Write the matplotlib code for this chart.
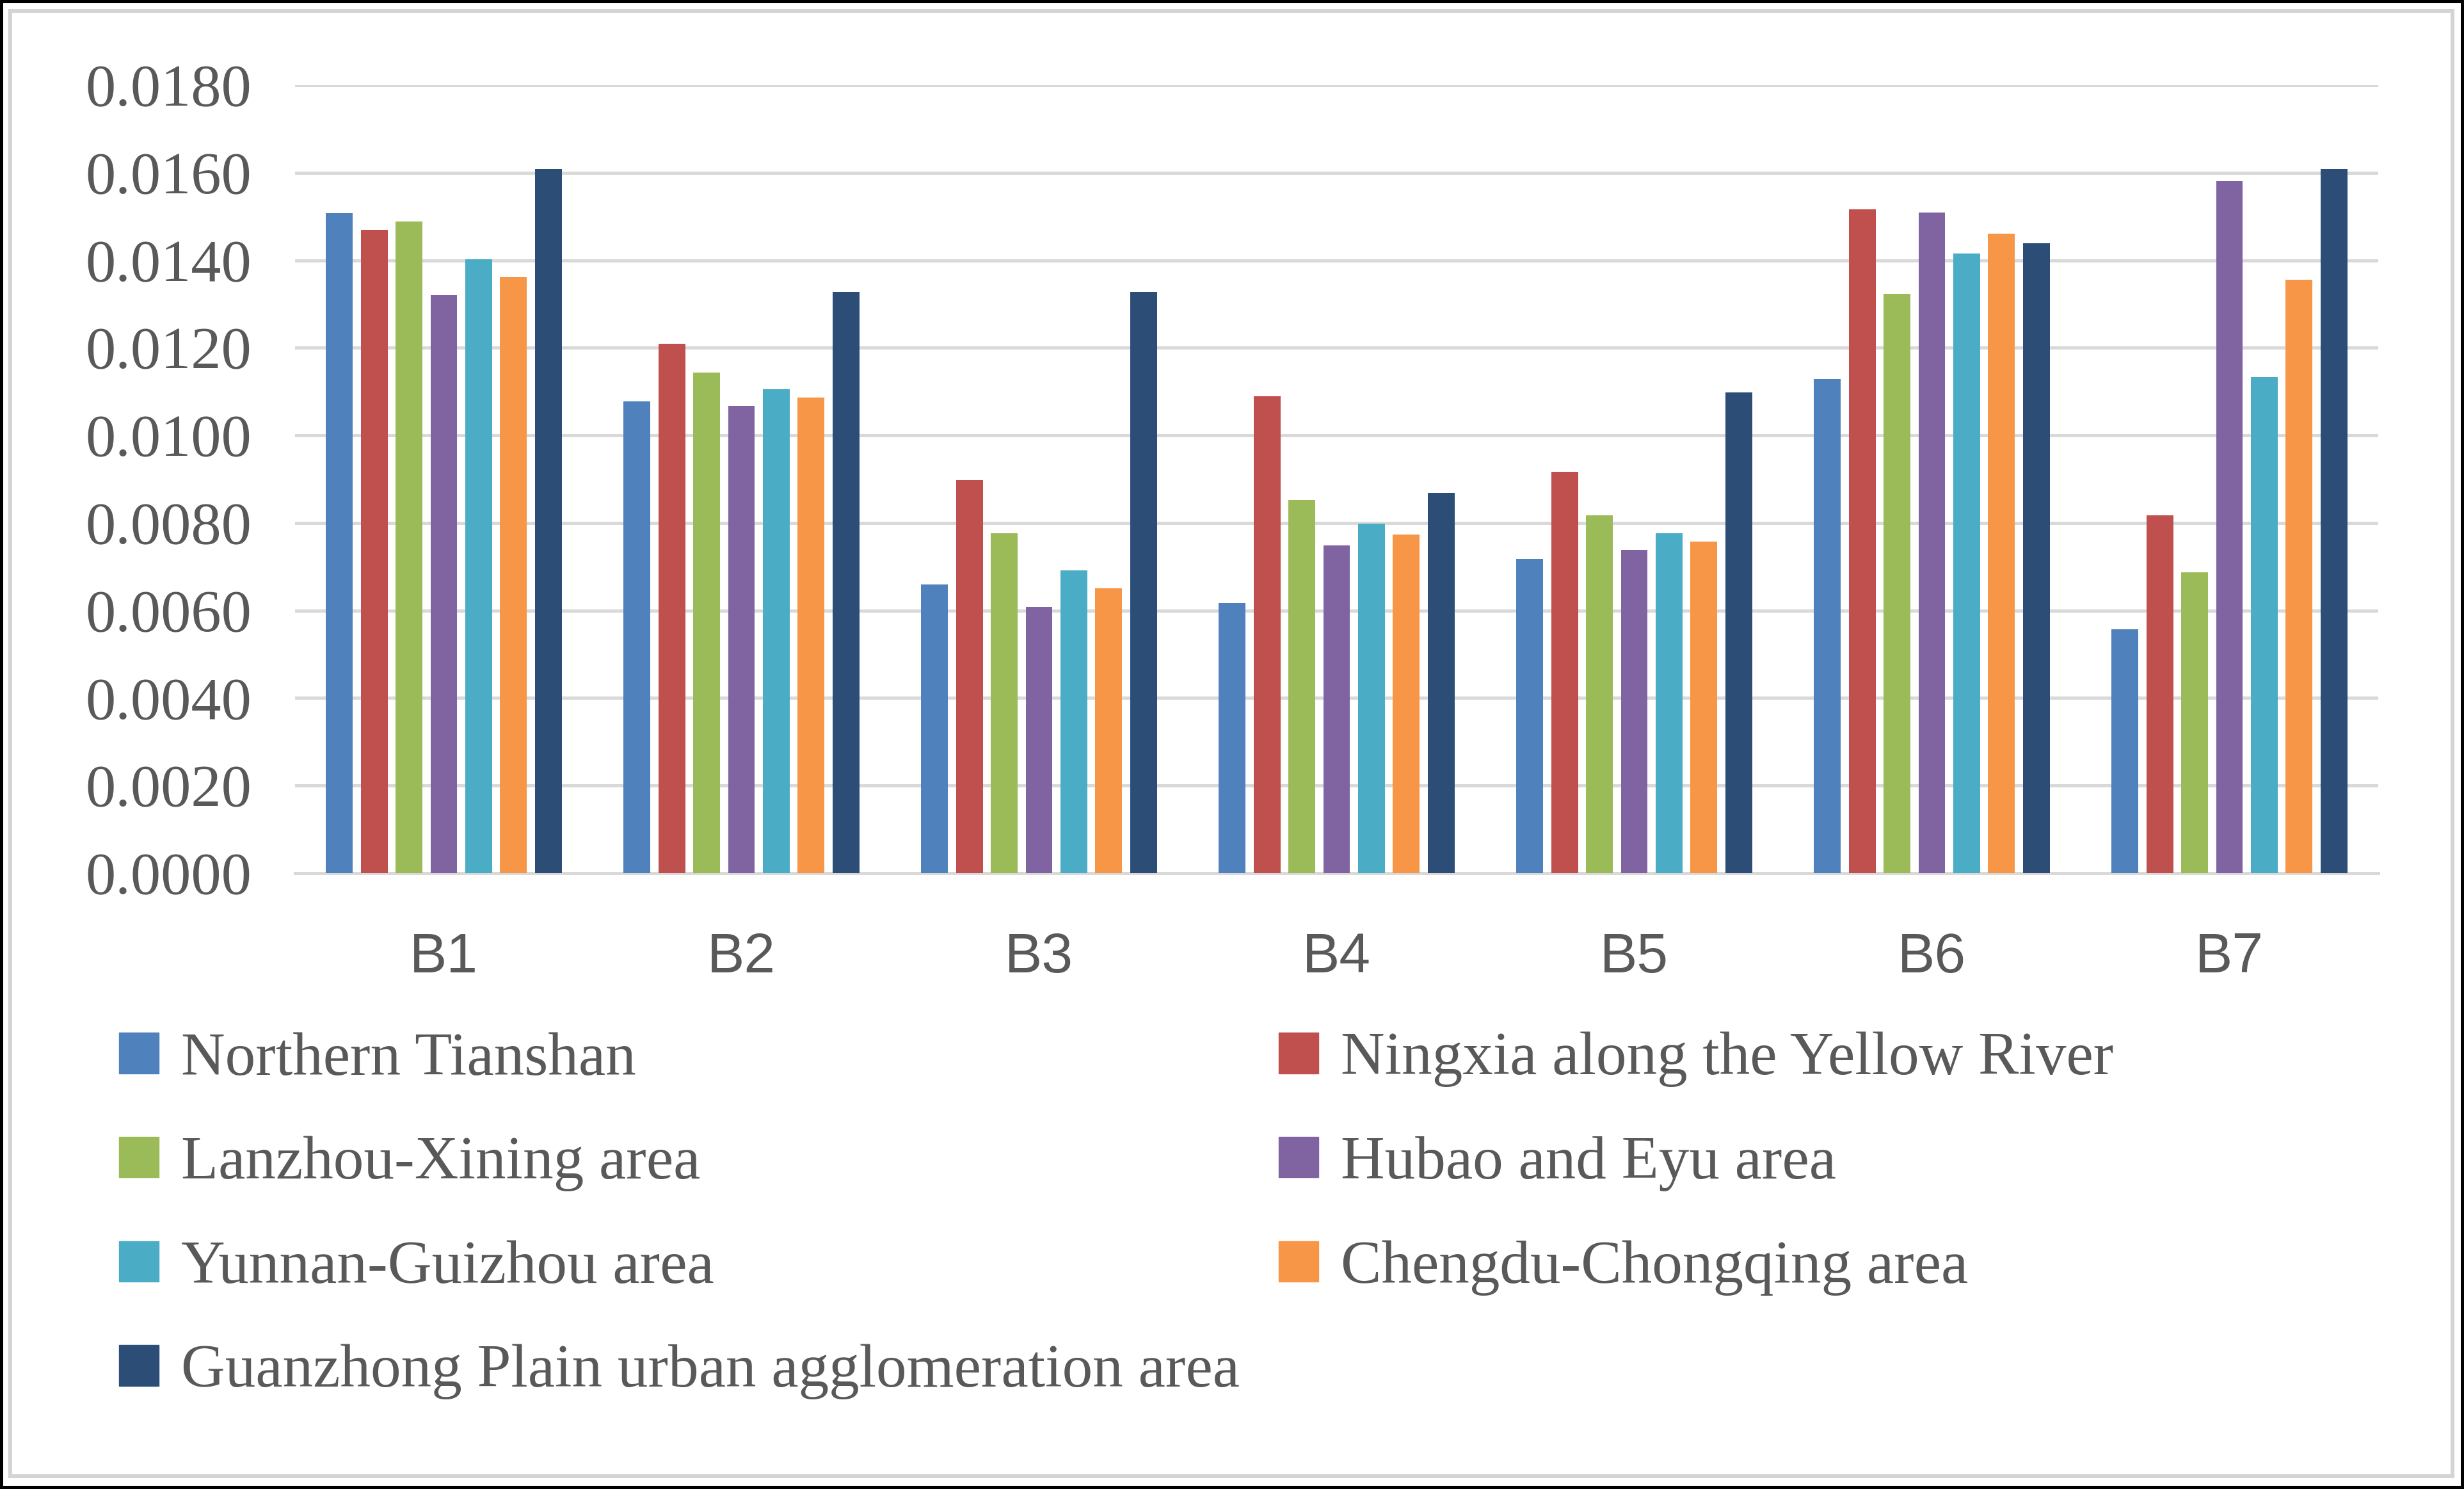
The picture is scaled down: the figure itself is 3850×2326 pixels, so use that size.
import matplotlib.pyplot as plt
import numpy as np
from matplotlib.patches import Patch, Rectangle

# データ
categories = ["B1", "B2", "B3", "B4", "B5", "B6", "B7"]

northern_tianshan = [0.01508, 0.01078, 0.00659, 0.00617, 0.00718, 0.01129, 0.00557]
ningxia_yellow_river = [0.01469, 0.01209, 0.00898, 0.01089, 0.00917, 0.01517, 0.00818]
lanzhou_xining = [0.01488, 0.01144, 0.00776, 0.00853, 0.00817, 0.01324, 0.00687]
hubao_eyu = [0.01320, 0.01067, 0.00609, 0.00748, 0.00738, 0.01509, 0.01580]
yunnan_guizhou = [0.01402, 0.01105, 0.00691, 0.00799, 0.00776, 0.01416, 0.01133]
chengdu_chongqing = [0.01362, 0.01086, 0.00650, 0.00774, 0.00757, 0.01461, 0.01356]
guanzhong_plain = [0.01609, 0.01328, 0.01328, 0.00868, 0.01098, 0.01439, 0.01609]

series_names = [
    "Northern Tianshan",
    "Ningxia along the Yellow River",
    "Lanzhou-Xining area",
    "Hubao and Eyu area",
    "Yunnan-Guizhou area",
    "Chengdu-Chongqing area",
    "Guanzhong Plain urban agglomeration area",
]
series_values = [
    northern_tianshan,
    ningxia_yellow_river,
    lanzhou_xining,
    hubao_eyu,
    yunnan_guizhou,
    chengdu_chongqing,
    guanzhong_plain,
]
colors = ["#4F81BD", "#C0504D", "#9BBB59", "#8064A2", "#4BACC6", "#F79646", "#2C4D75"]

W, H, DPI = 3850, 2326, 100
TEXT_GRAY = "#595959"
GRID_GRAY = "#d9d9d9"

fig = plt.figure(figsize=(W / DPI, H / DPI), dpi=DPI)
ax = fig.add_axes([461 / W, 1 - 1364 / H, (3716 - 461) / W, (1364 - 133) / H])

x = np.arange(len(categories))
slot = 0.117
bar_w = 0.090
for i, (name, vals) in enumerate(zip(series_names, series_values)):
    offset = (i - 3) * slot
    ax.bar(x + offset, vals, width=bar_w, color=colors[i], label=name, zorder=3)

ax.set_xlim(-0.5, len(categories) - 0.5)
ax.set_ylim(0, 0.018)
ax.set_yticks(np.arange(0, 0.0181, 0.002))
ax.yaxis.set_major_formatter(plt.FuncFormatter(lambda v, p: f"{v:.4f}"))
ax.set_xticks(x)
ax.set_xticklabels(categories)

ax.grid(axis="y", color=GRID_GRAY, lw=3.6, zorder=0)
for s in ["top", "right", "left"]:
    ax.spines[s].set_visible(False)
ax.spines["bottom"].set_color(GRID_GRAY)
ax.spines["bottom"].set_linewidth(3.6)

ax.tick_params(axis="y", length=0, pad=49, labelsize=68, labelcolor=TEXT_GRAY)
ax.tick_params(axis="x", length=0, pad=66, labelsize=63, labelcolor=TEXT_GRAY)
for lab in ax.get_yticklabels():
    lab.set_family("Liberation Serif")
for lab in ax.get_xticklabels():
    lab.set_family("Liberation Sans")

# 凡例は行方向に並べる
handles = [Patch(color=c) for c in colors]
order = [0, 2, 4, 6, 1, 3, 5]
leg = fig.legend(
    [handles[k] for k in order],
    [series_names[k] for k in order],
    loc="upper left",
    bbox_to_anchor=(186 / W, 1 - 1612 / H),
    ncol=2,
    frameon=False,
    borderpad=0,
    borderaxespad=0,
    handlelength=0.65,
    handleheight=0.65,
    handletextpad=0.37,
    columnspacing=0.64,
    labelspacing=0.80,
    prop={"family": "Liberation Serif", "size": 68.5},
)
for t in leg.get_texts():
    t.set_color(TEXT_GRAY)

# 外枠
fig.add_artist(Rectangle((0, 0), 1, 1, transform=fig.transFigure,
                         fill=False, ec="black", lw=10 * 72 / DPI))
fig.add_artist(Rectangle((16 / W, 20 / H), (3832 - 16) / W, (2309 - 20) / H,
                         transform=fig.transFigure, fill=False,
                         ec="#d4d4d4", lw=6 * 72 / DPI))

fig.savefig("out.png", dpi=DPI)
